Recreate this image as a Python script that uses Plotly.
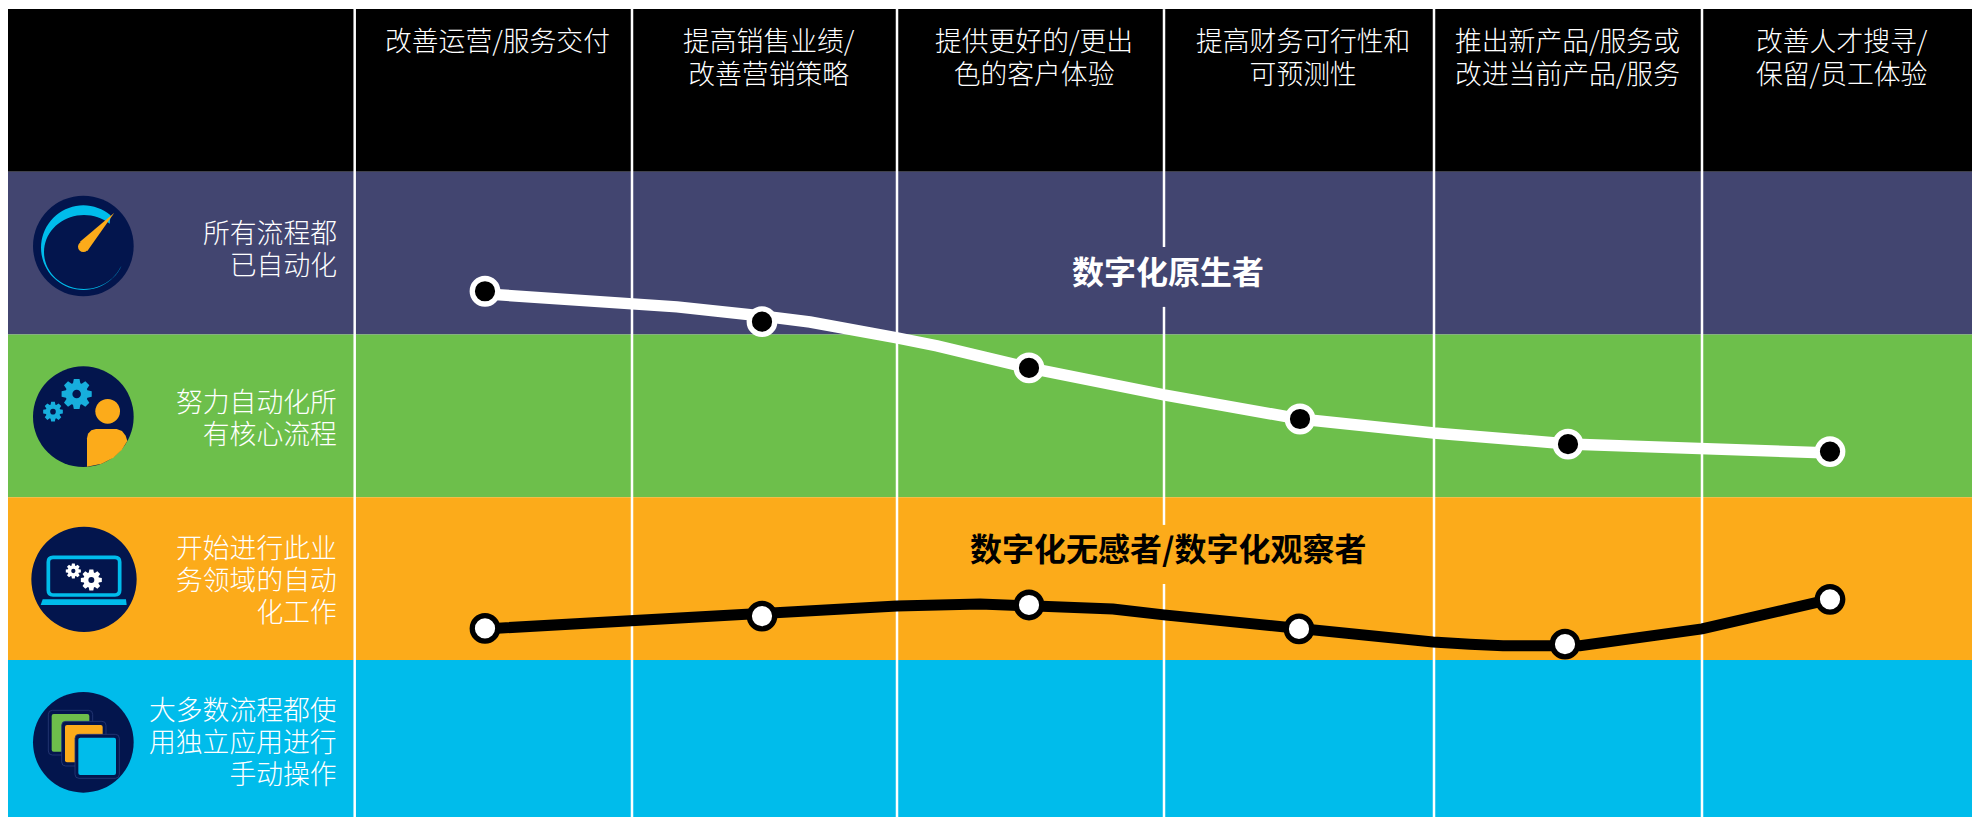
import math
import plotly.graph_objects as go

# ---------- data ----------
# y unit = one row of the table (0 = foot of the blue row, 5 = top of the header row)
band_edges = [5.0, 4.0, 3.0, 2.0, 1.0, 0.0]
band_colors = ["#000000", "#424570", "#6DBF4B", "#FCAB1A", "#00BCEB"]
band_left = 8
chart_right = 1972

divider_x = [354.7, 632, 897, 1434, 1702]
center_divider_x = 1164
center_divider_y = [5.0, 3.538, None, 3.170, 1.830, None, 1.467, 0.0]

digital_native_marker_x = [485, 762, 1029, 1300, 1568, 1830]
digital_native_marker_y = [3.266, 3.079, 2.795, 2.481, 2.326, 2.281]
digital_native_line_x = [485, 632, 677, 762, 810, 897, 937, 1029, 1107, 1164, 1300, 1340, 1434, 1568, 1702, 1790, 1830]
digital_native_line_y = [3.250, 3.194, 3.170, 3.114, 3.077, 2.979, 2.930, 2.795, 2.690, 2.629, 2.481, 2.451, 2.395, 2.328, 2.291, 2.274, 2.272]

digital_observer_marker_x = [485, 762, 1029, 1299, 1565, 1830]
digital_observer_marker_y = [1.194, 1.270, 1.338, 1.191, 1.097, 1.373]
digital_observer_line_x = [485, 632, 762, 897, 980, 1029, 1113, 1164, 1299, 1370, 1433, 1470, 1503, 1580, 1637, 1670, 1702, 1830]
digital_observer_line_y = [1.191, 1.246, 1.286, 1.332, 1.344, 1.338, 1.313, 1.277, 1.191, 1.141, 1.111, 1.097, 1.088, 1.088, 1.129, 1.158, 1.191, 1.373]

header_x = [497, 768.5, 1033.5, 1303, 1567, 1842]
header_labels = ["改善运营/服务交付", "提高销售业绩/<br>改善营销策略", "提供更好的/更出<br>色的客户体验",
                 "提高财务可行性和<br>可预测性", "推出新产品/服务或<br>改进当前产品/服务", "改善人才搜寻/<br>保留/员工体验"]
header_y = [4.816, 4.7145, 4.7145, 4.7145, 4.7145, 4.7145]

row_label_x = 338.5
row_labels = ["所有流程都<br>已自动化", "努力自动化所<br>有核心流程", "开始进行此业<br>务领域的自动<br>化工作",
              "大多数流程都使<br>用独立应用进行<br>手动操作"]
row_label_y = [3.534, 2.498, 1.500, 0.504]

series_names = ["数字化原生者", "数字化无感者/数字化观察者"]
series_name_x = [1167.5, 1168]
series_name_y = [3.399, 1.692]
series_name_colors = ["#FFFFFF", "#000000"]

NAVY = "#03154D"
CYAN = "#00BCEB"
ORANGE = "#FCAB1A"
FONT = "Noto Sans CJK SC"

fig = go.Figure()

# ---------- table ----------
shapes = []
for i, color in enumerate(band_colors):
    shapes.append(dict(type="rect", xref="x", yref="y", x0=band_left, x1=chart_right,
                       y0=band_edges[i + 1], y1=band_edges[i], fillcolor=color,
                       line=dict(width=0), layer="below"))

for dx in divider_x:
    fig.add_trace(go.Scatter(x=[dx, dx], y=[band_edges[0], band_edges[-1]], mode="lines",
                             line=dict(color="white", width=2.5), hoverinfo="skip", showlegend=False))
fig.add_trace(go.Scatter(x=[center_divider_x] * len(center_divider_y), y=center_divider_y, mode="lines",
                         line=dict(color="white", width=2.5), hoverinfo="skip", showlegend=False))

# ---------- curves ----------
fig.add_trace(go.Scatter(x=digital_native_line_x, y=digital_native_line_y, mode="lines",
                         line=dict(color="white", width=11.5), name=series_names[0], showlegend=False))
fig.add_trace(go.Scatter(x=digital_native_marker_x, y=digital_native_marker_y, mode="markers",
                         marker=dict(color="black", size=25.5, line=dict(color="white", width=5.3)),
                         name=series_names[0], showlegend=False))
fig.add_trace(go.Scatter(x=digital_observer_line_x, y=digital_observer_line_y, mode="lines",
                         line=dict(color="black", width=11), name=series_names[1], showlegend=False))
fig.add_trace(go.Scatter(x=digital_observer_marker_x, y=digital_observer_marker_y, mode="markers",
                         marker=dict(color="white", size=25.5, line=dict(color="black", width=5.3)),
                         name=series_names[1], showlegend=False))

# keeps the pixel-space icon axes alive
fig.add_trace(go.Scatter(x=[None], y=[None], xaxis="x2", yaxis="y2", hoverinfo="skip", showlegend=False))


# ---------- icons, drawn in crop units (1 unit = 1/3 px) from an icon origin ----------
class Icon:
    def __init__(self, ox, oy):
        self.ox, self.oy = ox, oy

    def pt(self, u, v):
        return self.ox + u / 3, self.oy + v / 3

    def circle(self, u, v, r, color):
        x, y = self.pt(u, v)
        shapes.append(dict(type="circle", xref="x2", yref="y2", x0=x - r / 3, x1=x + r / 3,
                           y0=y - r / 3, y1=y + r / 3, fillcolor=color, line=dict(width=0)))

    def path(self, pts, color, close=True, line=None, width=0):
        d = "M " + " L ".join("{:.2f},{:.2f}".format(*self.pt(u, v)) for u, v in pts)
        if close:
            d += " Z"
        shapes.append(dict(type="path", xref="x2", yref="y2", path=d, fillcolor=color,
                           line=dict(width=width, color=line or "rgba(0,0,0,0)")))

    def round_rect(self, u0, v0, u1, v1, r, fill, line=None, width=0):
        (x0, y0), (x1, y1) = self.pt(u0, v0), self.pt(u1, v1)
        q = r / 3
        d = (f"M {x0 + q},{y0} L {x1 - q},{y0} Q {x1},{y0} {x1},{y0 + q} L {x1},{y1 - q} Q {x1},{y1} {x1 - q},{y1} "
             f"L {x0 + q},{y1} Q {x0},{y1} {x0},{y1 - q} L {x0},{y0 + q} Q {x0},{y0} {x0 + q},{y0} Z")
        shapes.append(dict(type="path", xref="x2", yref="y2", path=d, fillcolor=fill,
                           line=dict(width=width, color=line or "rgba(0,0,0,0)")))

    def gear(self, u, v, r, teeth, color, hole):
        pts = []
        root = r * 0.74
        step = 2 * math.pi / teeth
        for k in range(teeth):
            a = k * step
            for da, rr in ((-0.30, root), (-0.17, r), (0.17, r), (0.30, root)):
                pts.append((u + rr * math.cos(a + da * step * 1.4), v + rr * math.sin(a + da * step * 1.4)))
        self.path(pts, color)
        self.circle(u, v, r * 0.55, color)
        self.circle(u, v, r * 0.28, hole)


# icon 1: dial
ic = Icon(20, 185)
ic.circle(190, 183, 151, NAVY)
outer = [(190 + 127 * math.cos(math.radians(a)), 188 - 127 * math.sin(math.radians(a))) for a in range(50, 340, 5)]
inner = [(192 + 120 * math.cos(math.radians(a)), 201 - 111 * math.sin(math.radians(a))) for a in range(335, 48, -5)]
ic.path(outer + inner, CYAN)
ic.path([(283, 83), (180, 170), (202, 198)], ORANGE)
ic.circle(190, 185, 16, ORANGE)

# icon 2: gears and person
ic = Icon(20, 355)
ic.circle(190, 185, 151, NAVY)
ic.gear(170, 117, 46, 8, "#17AEDD", NAVY)
ic.gear(99, 170, 30, 8, "#17AEDD", NAVY)
ic.circle(263, 169, 37, ORANGE)
body = [(201, 335), (201, 250), (204, 236), (214, 226), (228, 222), (290, 222), (306, 228), (317, 242), (322, 258),
        (305, 285), (280, 308), (245, 326)]
ic.path(body, ORANGE)

# icon 3: laptop
ic = Icon(20, 515)
ic.circle(192, 193, 158, NAVY)
ic.round_rect(85, 127, 299, 240, 14, NAVY, CYAN, 3.7)
ic.path([(68, 253), (318, 253), (320, 270), (62, 270)], CYAN)
ic.gear(160, 168, 23, 8, "white", NAVY)
ic.gear(214, 195, 32, 8, "white", NAVY)

# icon 4: stacked windows
ic = Icon(20, 680)
ic.circle(190, 187, 151, NAVY)
FAINT = "#2A3B78"
ic.round_rect(85, 91, 218, 225, 12, NAVY, FAINT, 0.8)
ic.round_rect(95, 102, 208, 215, 6, "#6DBF4B")
ic.round_rect(125, 124, 258, 258, 12, NAVY, FAINT, 0.8)
ic.round_rect(135, 135, 248, 247, 6, ORANGE)
ic.round_rect(165, 163, 298, 295, 12, NAVY, FAINT, 0.8)
ic.round_rect(175, 173, 288, 285, 6, CYAN)

# ---------- text ----------
annotations = []


def text(x, y, s, size, color, anchor, weight, pitch_size=None):
    # the annotation font sets the line pitch; the span sets the glyph size
    body = f'<span style="font-size:{size}px">' + s.replace("<br>", f'</span><br><span style="font-size:{size}px">') + "</span>"
    annotations.append(dict(x=x, y=y, xref="x", yref="y", text=body, showarrow=False, xanchor=anchor, yanchor="middle",
                            align=anchor, font=dict(family=FONT, size=pitch_size or size, color=color, weight=weight)))


for hx, hy, s in zip(header_x, header_y, header_labels):
    text(hx, hy, s, 26.8, "white", "center", 300, pitch_size=25.4)
for s, ly in zip(row_labels, row_label_y):
    text(row_label_x, ly, s, 26.8, "white", "right", 300, pitch_size=24.6)
for s, nx, ny, c in zip(series_names, series_name_x, series_name_y, series_name_colors):
    text(nx, ny, s, 32, c, "center", 700)

fig.update_layout(
    width=1972, height=817, autosize=False, margin=dict(l=0, r=0, t=0, b=0),
    paper_bgcolor="white", plot_bgcolor="white", showlegend=False,
    xaxis=dict(range=[0, 1972], visible=False, fixedrange=True),
    yaxis=dict(range=[0.035, 5.056], visible=False, fixedrange=True),
    xaxis2=dict(range=[0, 1972], visible=False, overlaying="x", fixedrange=True),
    yaxis2=dict(range=[817, 0], visible=False, overlaying="y", fixedrange=True),
    shapes=shapes, annotations=annotations,
)

fig.write_html("out.html", config=dict(displayModeBar=False),
               post_script="document.body.style.margin='0';document.body.style.overflow='hidden';")
